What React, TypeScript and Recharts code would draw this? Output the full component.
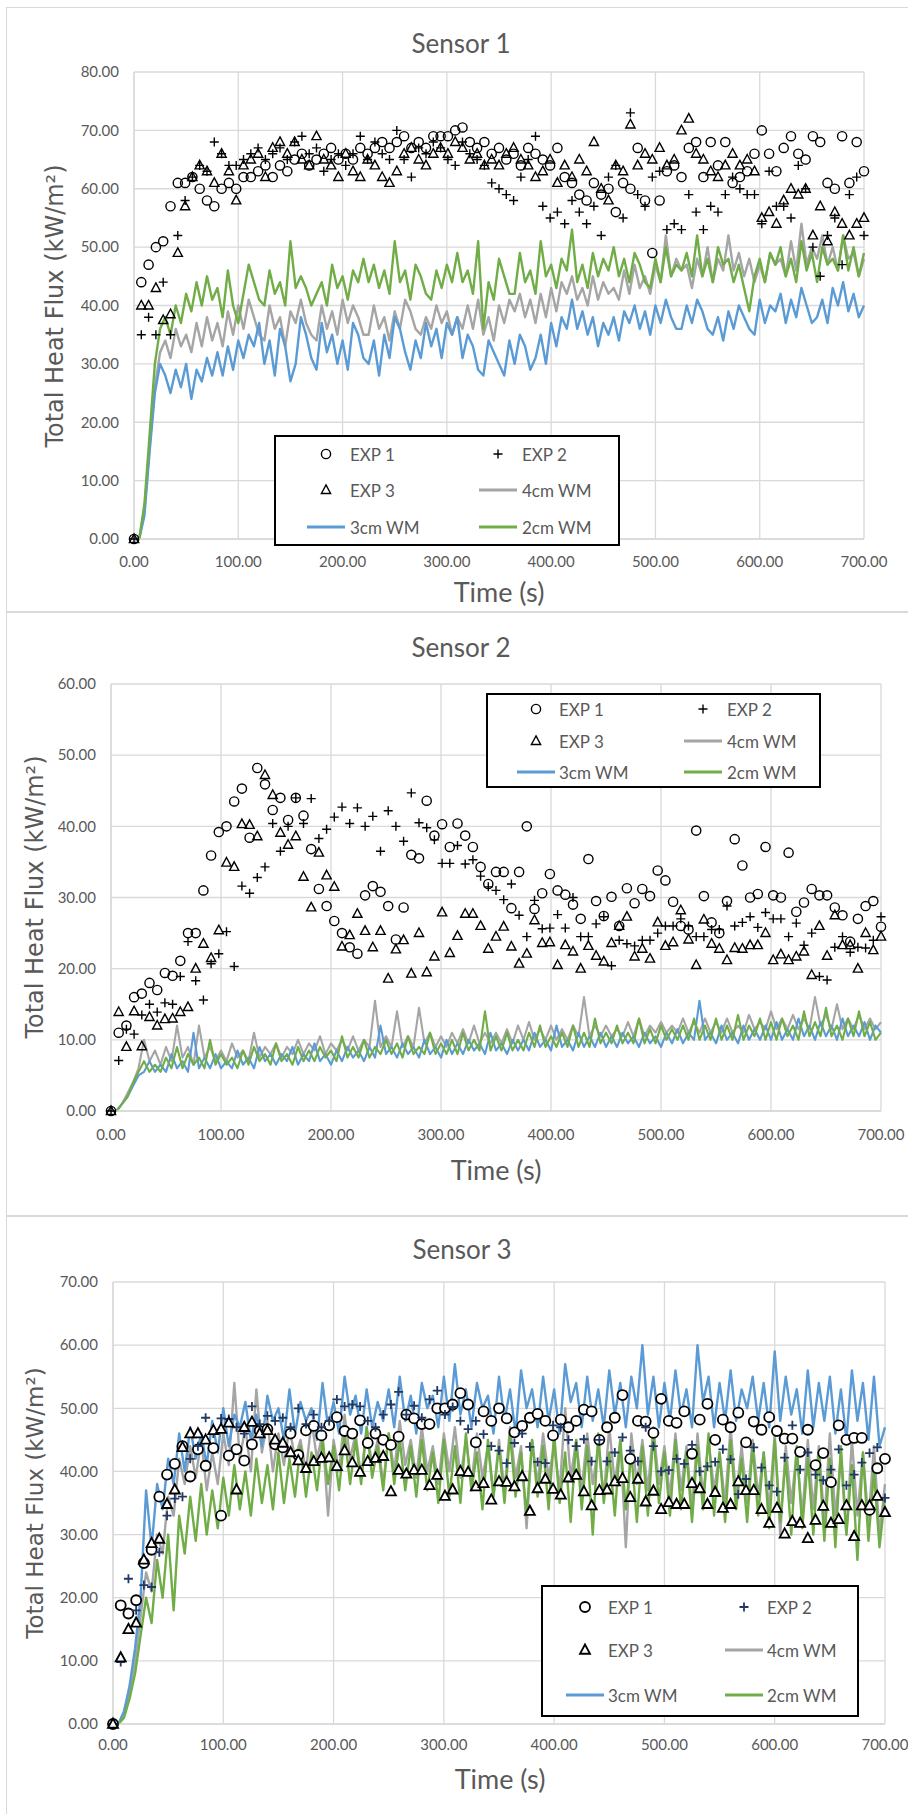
import React from "react";
import { ComposedChart, Line, Scatter, XAxis, YAxis, CartesianGrid } from "recharts";

const LINE_STEP = 5; // seconds between model samples
const EXP_STEP = 7; // seconds between experiment samples
const X_TICKS = [0, 100, 200, 300, 400, 500, 600, 700];

const GRAY = "#a5a5a5";
const BLUE = "#5b9bd5";
const GREEN = "#70ad47";
const TEXT = "#595959";
const FONT = "Lato, 'Open Sans', sans-serif";

// ---------- Sensor 1 ----------
const p1Gray = [
  0, 0, 5, 16, 26, 32, 34, 31, 36, 33, 35, 32, 37, 33, 38, 34, 37, 33, 39, 35,
  40, 36, 41, 38, 35, 34, 40, 36, 38, 33, 39, 37, 41, 37, 35, 34, 40, 36, 39, 35,
  41, 37, 40, 38, 35, 35, 40, 36, 38, 34, 39, 36, 41, 39, 36, 35, 38, 36, 40, 37,
  39, 35, 38, 36, 40, 36, 41, 35, 38, 34, 40, 37, 41, 39, 42, 38, 41, 37, 42, 38,
  43, 39, 44, 42, 45, 41, 43, 40, 45, 41, 44, 42, 43, 41, 46, 42, 47, 43, 45, 42,
  47, 44, 52, 45, 48, 46, 47, 43, 48, 45, 50, 44, 48, 46, 52, 46, 49, 45, 48, 44,
  47, 44, 49, 47, 48, 45, 51, 46, 54, 47, 50, 48, 52, 47, 50, 46, 52, 48, 49, 45,
  48,
];
const p1Blue = [
  0, 0, 4, 15, 25, 30, 28, 25, 29, 26, 30, 24, 29, 27, 31, 28, 32, 28, 33, 29,
  34, 31, 35, 33, 37, 30, 34, 28, 36, 33, 27, 30, 38, 35, 31, 29, 37, 32, 35, 30,
  34, 29, 37, 35, 31, 30, 34, 28, 35, 31, 38, 36, 32, 29, 34, 31, 37, 33, 36, 31,
  37, 35, 38, 31, 35, 33, 29, 28, 34, 32, 30, 28, 34, 30, 35, 33, 29, 31, 35, 30,
  37, 33, 38, 36, 41, 36, 39, 35, 38, 33, 37, 35, 38, 34, 39, 37, 40, 36, 39, 35,
  40, 37, 41, 38, 36, 36, 40, 37, 41, 39, 36, 35, 38, 34, 39, 36, 40, 38, 36, 35,
  41, 37, 40, 39, 42, 37, 41, 38, 43, 40, 37, 38, 41, 37, 43, 40, 44, 39, 42, 38,
  40,
];
const p1Green = [
  0, 0, 6, 18, 30, 36, 38, 35, 40, 37, 42, 39, 44, 40, 45, 41, 43, 38, 46, 40,
  37, 42, 47, 44, 41, 40, 46, 42, 44, 40, 51, 43, 45, 43, 40, 42, 44, 40, 47, 43,
  45, 41, 46, 44, 48, 44, 47, 43, 46, 42, 51, 44, 46, 41, 47, 45, 42, 41, 46, 43,
  47, 44, 49, 44, 46, 42, 51, 36, 44, 41, 48, 45, 42, 42, 49, 44, 46, 42, 51, 45,
  47, 43, 48, 46, 53, 44, 47, 43, 49, 45, 48, 46, 50, 45, 48, 44, 49, 47, 44, 43,
  48, 44, 50, 45, 47, 46, 49, 45, 52, 45, 48, 44, 50, 47, 48, 44, 47, 43, 39, 45,
  48, 44, 49, 47, 50, 45, 48, 44, 51, 46, 49, 44, 50, 47, 48, 46, 52, 46, 50, 45,
  49,
];
const p1Exp1 = [
  0, 44, 47, 50, 51, 57, 61, 61, 62, 60,
  58, 57, 60, 61, 60, 62, 62, 63, 64, 62,
  64, 63, 65, 66, 64, 65, 66, 67, 65, 66,
  65, 67, 66, 67, 68, 67, 68, 69, 67, 68,
  67, 69, 69, 69, 70, 70.5, 68, 67, 68, 66,
  67, 65, 66, 64, 67, 66, 65, 64, 67, 62,
  61, 59, 58, 61, 59, 60, 56, 61, 60, 67,
  58, 49, 58, 63, 64, 62, 67, 68, 62, 68,
  64, 68, 61, 62, 63, 66, 70, 66, 63, 67,
  69, 66, 65, 69, 68, 61, 60, 69, 61, 68,
  63,
];
const p1Exp2 = [
  0, 35, 38, 35, 44, 35, 52, 58, 62, 64,
  63, 68, 66, 64, 64, 65, 66, 67, 65, 66,
  67, 65, 68, 69, 66, 67, 63, 65, 66, 64,
  66, 69, 65, 68, 66, 65, 70, 65, 62, 67,
  66, 68, 67, 65, 64, 68, 66, 65, 64, 61,
  60, 59, 58, 62, 65, 69, 57, 55, 56, 54,
  58, 56, 54, 57, 52, 62, 64, 55, 73, 59,
  57, 62, 63, 53, 54, 53, 59, 56, 53, 57,
  56, 59, 62, 60, 59, 59, 54, 63, 57, 57,
  55, 64, 60, 50, 45, 52, 55, 47, 59, 62,
  52,
];
const p1Exp3 = [
  0, 40, 40, 43, 37.5, 38.5, 49, 57, 62, 64,
  63, 61, 66, 63, 58, 64, 65, 66, 62, 67,
  68, 66, 68, 65, 64, 69, 65, 64, 62, 66,
  63, 62, 65, 64, 62, 61, 63, 66, 67, 65,
  64, 66, 67, 66, 68, 67, 65, 66, 64, 65,
  64, 66, 67, 65, 64, 62, 63, 65, 61, 64,
  62, 65, 63, 68, 60, 58, 64, 63, 71, 64,
  66, 65, 67, 64, 65, 70, 72, 66, 65, 63,
  62, 64, 66, 64, 65, 63, 55, 56, 54, 58,
  60, 59, 60, 52, 57, 51, 56, 54, 52, 54,
  55,
];

// ---------- Sensor 2 ----------
const p2Gray = [
  0, 0, 1, 2.5, 4, 6, 10, 7, 8.5, 6.5, 9, 7, 12, 7.5, 9, 6.5, 12, 7.5, 9, 7,
  8.5, 7, 9.5, 7.5, 8.5, 7, 11, 7.5, 9, 8, 9.5, 7.5, 9, 8, 10, 8, 9.5, 8.5, 10.5, 8,
  9.5, 8.5, 10, 8.5, 10.5, 8.5, 10, 9, 15.5, 9, 10.5, 9, 14, 9, 10.5, 9, 14.5, 9.5, 11, 9,
  10.5, 9, 11, 9.5, 11.5, 9.5, 12, 9.5, 11, 9.5, 11, 9.5, 11.5, 9.5, 12, 10, 12.5, 10, 11.5, 10,
  12, 10, 11.5, 10, 12, 10.5, 16, 10.5, 12, 10.5, 12, 10.5, 11.5, 10.5, 12.5, 10.5, 13, 10.5, 12, 11,
  12.5, 11, 12, 11, 13, 11, 12.5, 11, 13, 11, 12.5, 11, 13, 11, 12, 11, 13.5, 11.5, 12.5, 11.5,
  14, 11.5, 13, 11.5, 13.5, 11.5, 13, 11.5, 16, 12, 13.5, 11.5, 15, 11.5, 13, 11.5, 13.5, 11.5, 13, 11.5,
  12.5,
];
const p2Blue = [
  0, 0, 1, 2, 3.5, 5, 5.5, 7, 5.5, 6.5, 5.5, 8, 6, 7, 5.5, 11, 6, 7.5, 6, 8,
  6, 7, 6, 8.5, 6.5, 7.5, 6, 9, 7, 8, 6.5, 8, 7, 9, 6.5, 8, 7, 9.5, 7, 8,
  6.5, 8.5, 7, 9, 7.5, 8.5, 7, 9, 7.5, 12, 8, 9, 7.5, 9.5, 8, 9, 7.5, 10, 8, 9,
  7.5, 10, 8, 9.5, 8, 10, 8.5, 9.5, 8, 11, 8.5, 9.5, 8, 10, 8.5, 10, 8.5, 11, 9, 10,
  8.5, 12, 9, 10, 8.5, 11, 9, 10.5, 9, 11, 9, 10.5, 9, 11, 9.5, 10.5, 9, 11, 9.5, 10.5,
  9, 11, 9.5, 11.5, 9.5, 11, 10, 15.5, 10, 11, 9.5, 12, 10, 11, 9.5, 12, 10, 11.5, 10, 12,
  10, 12.5, 10, 11.5, 10, 13, 10.5, 12, 10, 12.5, 10.5, 12, 10, 13, 10.5, 12, 10.5, 12.5, 10, 12,
  11,
];
const p2Green = [
  0, 0, 1, 2, 4, 5.5, 7, 5.5, 6.5, 5.5, 7.5, 6, 9, 6, 8, 6.5, 7.5, 6, 10, 6.5,
  8, 6.5, 7.5, 6, 8.5, 6.5, 9, 7, 8, 6.5, 9.5, 7, 8, 6.5, 9, 7, 8.5, 7, 9, 7.5,
  8.5, 7, 10.5, 7.5, 9, 7.5, 10, 7.5, 9, 8, 10, 8, 9.5, 7.5, 10.5, 8, 9, 8, 11, 8,
  9.5, 8, 10, 8, 11, 8.5, 10, 8.5, 14, 8.5, 10.5, 8.5, 11, 8.5, 10, 8.5, 11, 9, 12, 9,
  10.5, 9, 11, 9, 12, 9, 11, 9, 13, 9.5, 11, 9.5, 12, 9.5, 11, 9.5, 13, 9.5, 11.5, 9.5,
  12, 10, 11.5, 10, 12, 10, 13, 10, 12, 10, 13, 10, 12, 10, 13.5, 10, 12, 10.5, 13, 10,
  12.5, 10, 13, 10.5, 12, 10, 14, 10.5, 12.5, 10.5, 14.5, 10.5, 12, 10, 13, 10.5, 14, 10.5, 12.5, 10,
  11,
];
const p2Exp1 = [
  0, 11, 12, 16, 16.5, 18, 17, 19.4, 19, 21.1,
  25, 25, 31, 35.9, 39.2, 40, 43.5, 45.3, 38.4, 48.2,
  45.9, 42.3, 44, 40.9, 44, 41.5, 36.8, 31.2, 28.8, 26.7,
  25, 23, 22.1, 30.3, 31.6, 30.8, 28.8, 24.1, 28.6, 36,
  35.5, 43.6, 38.7, 40.3, 37.1, 40.4, 38.7, 37.1, 34.3, 31.9,
  33.6, 33.6, 28.5, 33.6, 40, 28.4, 30.6, 33.3, 31, 30.4,
  29, 27, 35.4, 29.5, 27.4, 30.1, 26, 31.3, 29.2, 31.2,
  30.2, 33.8, 32.4, 29.4, 26, 25.5, 39.4, 30.2, 26.5, 25,
  29.5, 38.2, 34.5, 30, 30.5, 37.1, 30.3, 30, 36.3, 28,
  29.3, 31.2, 30.3, 30.3, 28.6, 27.5, 23.8, 27, 28.8, 29.5,
  25.9,
];
const p2Exp2 = [
  0, 7.1, 11.5, 10.8, 13.5, 15, 13.9, 15.2, 15, 18.9,
  23.8, 18.3, 15.6, 20.7, 22.1, 25.2, 20.3, 31.6, 30.6, 32.8,
  34.3, 40.4, 36.5, 40, 44, 40.4, 43.9, 38.3, 39.6, 41.3,
  42.7, 40.4, 42.6, 40, 41.4, 36.5, 42.2, 40, 37.9, 44.7,
  40.5, 39.8, 38.1, 34.8, 34.8, 37.3, 34.7, 35.3, 33, 31.5,
  31, 29.7, 31.9, 27.5, 24.5, 29.6, 25.6, 25.7, 27.6, 25.7,
  30, 24.5, 24.5, 26.3, 27.3, 20.4, 24, 23.5, 23.2, 24,
  24, 25, 26, 26, 27, 26, 24.5, 24.5, 25.5, 25.5,
  28.8, 26, 26.5, 27.3, 25.8, 27.9, 27, 27, 24.5, 26.4,
  23.3, 25, 18.9, 18.4, 23, 24.5, 22.3, 23, 22.9, 24,
  27.3,
];
const p2Exp3 = [
  0, 13.9, 9, 14, 9.1, 13.2, 12, 12.9, 13, 13.9,
  14.6, 20, 23.5, 21.5, 25.4, 34.9, 34.3, 40.3, 40.2, 38.6,
  47.2, 44.4, 39.1, 37.4, 38.6, 32.9, 28.6, 36.3, 33.1, 31.5,
  23.1, 24.7, 27.7, 25.3, 23, 25.3, 18.6, 22.7, 24, 19.3,
  25, 19.5, 21.7, 27.9, 22.2, 24.6, 27.7, 27.7, 26, 22.8,
  24.5, 25.9, 23.1, 20.7, 22.1, 26.8, 23.6, 23.7, 20.5, 23.3,
  22.4, 20, 23.2, 21.8, 21, 23.6, 26, 27.3, 21.7, 22.8,
  21.4, 26.5, 23.2, 23.7, 28.2, 24.1, 20.5, 26.9, 23.5, 22.8,
  21.2, 22.9, 22.8, 23.3, 23.3, 25, 21.2, 22, 21.2, 21.7,
  22.4, 19.1, 26, 21.8, 27.5, 23.3, 23.3, 20, 25, 22.6,
  24.5,
];

// ---------- Sensor 3 ----------
const p3Gray = [
  0, 0, 2, 5, 10, 17, 24, 21, 30, 27, 36, 33, 42, 38, 44, 39, 45, 37, 43, 38,
  46, 41, 54, 42, 47, 40, 53, 43, 48, 40, 46, 41, 47, 42, 45, 40, 48, 42, 46, 33,
  45, 40, 49, 42, 46, 39, 47, 41, 45, 38, 46, 40, 48, 41, 45, 39, 47, 40, 44, 38,
  46, 40, 47, 39, 45, 38, 46, 39, 44, 36, 45, 37, 47, 39, 44, 31, 45, 38, 46, 39,
  44, 37, 50, 39, 45, 37, 46, 38, 44, 36, 47, 38, 45, 28, 46, 38, 45, 37, 47, 38,
  44, 36, 46, 37, 44, 34, 46, 36, 45, 37, 43, 35, 47, 36, 44, 35, 45, 36, 43, 34,
  46, 30, 44, 35, 43, 33, 45, 34, 44, 32, 46, 33, 42, 30, 45, 33, 43, 32, 44, 30,
  38,
];
const p3Blue = [
  0, 0, 2, 6, 12, 20, 37, 28, 38, 34, 42, 38, 46, 40, 47, 42, 46, 41, 48, 43,
  50, 44, 49, 47, 51, 45, 49, 44, 52, 48, 50, 45, 53, 46, 51, 48, 50, 45, 54, 47,
  51, 46, 55, 49, 52, 46, 53, 47, 51, 48, 53, 47, 55, 48, 52, 46, 54, 50, 52, 47,
  55, 48, 57, 49, 53, 47, 54, 50, 52, 46, 55, 48, 53, 46, 56, 50, 53, 47, 55, 48,
  53, 46, 57, 51, 54, 47, 55, 48, 53, 47, 56, 49, 54, 47, 55, 50, 60, 49, 55, 47,
  54, 48, 56, 49, 53, 47, 60, 51, 55, 47, 54, 48, 56, 48, 53, 50, 55, 48, 54, 47,
  59, 48, 55, 49, 53, 46, 56, 47, 54, 48, 55, 46, 53, 45, 56, 48, 54, 45, 55, 44,
  47,
];
const p3Green = [
  0, 0, 1, 4, 8, 14, 20, 16, 26, 20, 30, 18, 33, 27, 36, 29, 38, 30, 37, 31,
  39, 33, 41, 34, 40, 33, 42, 35, 41, 34, 43, 35, 42, 36, 44, 36, 43, 37, 45, 38,
  44, 37, 46, 38, 45, 38, 47, 39, 44, 37, 46, 38, 45, 37, 44, 36, 45, 37, 43, 35,
  45, 36, 44, 35, 46, 37, 43, 34, 45, 36, 44, 35, 46, 36, 43, 33, 45, 36, 44, 34,
  46, 35, 43, 32, 45, 34, 44, 30, 46, 35, 43, 33, 45, 34, 43, 32, 44, 33, 46, 35,
  43, 33, 45, 34, 43, 32, 44, 34, 46, 33, 43, 32, 45, 34, 42, 32, 44, 33, 43, 31,
  45, 32, 42, 30, 44, 31, 42, 30, 43, 29, 42, 28, 44, 30, 41, 26, 43, 29, 40, 28,
  36,
];
const p3Exp1 = [
  0, 18.8, 17.5, 19.6, 25.5, 27.6, 36, 39.5, 41.2, 44,
  39.2, 43.5, 40.9, 43.7, 33, 42.5, 43.5, 41.7, 44.3, 46.4,
  46.7, 44.3, 43.8, 46, 42.6, 46.5, 47.2, 45.7, 47.3, 48.6,
  46.4, 46, 48.1, 44.5, 46, 45, 44.2, 45.5, 49, 48.4,
  47.5, 47.5, 50, 50, 50.6, 52.4, 50.6, 44.6, 49.5, 48,
  50, 48.4, 46.2, 47.2, 48.5, 49.1, 48, 45.7, 48.2, 47,
  48, 49.8, 49.5, 45, 47, 48.5, 52.1, 42, 48, 47.9,
  46.1, 51.5, 48, 47.7, 49.5, 42.8, 48.2, 50.7, 45, 48.2,
  47, 49.3, 44.6, 47.9, 46.6, 48.6, 46.4, 45.2, 45.2, 43.1,
  46.6, 41, 42.9, 38.3, 47.3, 45, 45.3, 45.3, 33.9, 40.5,
  42,
];
const p3Exp2 = [
  0, 9.8, 23, 18, 22, 21.7, 27.2, 33, 35.7, 36,
  42, 44, 48.5, 46, 48.4, 48.3, 47, 46, 50.3, 47.5,
  48.8, 48, 48.5, 47, 50, 47.5, 49, 47, 48, 51.4,
  50.3, 50.6, 50.3, 48, 47, 49, 50.6, 52.6, 49, 50.4,
  48.5, 51.4, 52.8, 49, 50.2, 48, 46.7, 48, 45.9, 44,
  43.3, 41.3, 44.5, 46, 43.9, 41.5, 41.3, 47.3, 47, 45,
  44, 45.1, 41.6, 45, 41.6, 43, 45.4, 43.3, 41.6, 47,
  44, 40, 40.2, 42, 41.2, 44.2, 40, 40.8, 41.5, 43.5,
  41.9, 36.4, 38.8, 43.8, 40.6, 37.8, 36.8, 42.2, 47.3, 40.3,
  43, 39.5, 38.6, 40.3, 43.5, 37.8, 39.5, 41.4, 42.9, 43.8,
  35.8,
];
const p3Exp3 = [
  0, 10.5, 15, 16, 26, 28.6, 29.3, 34.8, 37.1, 43.8,
  46, 46, 45, 46.5, 46.7, 47.7, 37.1, 47, 47.8, 46,
  46.5, 45, 44.5, 43, 41.7, 40.5, 41.6, 42.1, 42.2, 40.8,
  43.3, 41.4, 39.9, 41.6, 42.1, 42.4, 36.8, 40.2, 39.6, 40.2,
  40.2, 37.8, 39.4, 36.1, 37.1, 40, 39.9, 37.6, 38.1, 35.5,
  38.4, 38.3, 37.6, 39.2, 33.7, 37.3, 38.8, 37.2, 36.3, 39,
  39.4, 36.8, 34.6, 37, 37.1, 38.4, 38.9, 35.9, 38.8, 35.2,
  36.9, 34, 35.1, 34.8, 34.8, 38.1, 37.3, 34.8, 36.7, 34.2,
  34.8, 38.4, 37, 37, 34, 31.8, 34.2, 30.1, 32.1, 31.8,
  29.4, 32.3, 34.5, 31.8, 32.4, 34.6, 29.7, 34.6, 34.6, 36.1,
  33.5,
];

const toPoints = (step: number, values: number[]) => values.map((v, i) => ({ t: i * step, v }));
const fmt = (v: number) => v.toFixed(2);
const yTicks = (max: number) => Array.from({ length: max / 10 + 1 }, (_, i) => i * 10);

type MarkStyle = { fill: string; stroke: string; width: number; plusColor: string; r: number };

const circleShape = (m: MarkStyle) => (p: any) =>
  p.cx == null ? <g /> : <circle cx={p.cx} cy={p.cy} r={m.r} fill={m.fill} stroke={m.stroke} strokeWidth={m.width} />;

const plusShape = (m: MarkStyle) => (p: any) =>
  p.cx == null ? (
    <g />
  ) : (
    <path
      d={`M${p.cx - 4.5},${p.cy}H${p.cx + 4.5}M${p.cx},${p.cy - 4.5}V${p.cy + 4.5}`}
      stroke={m.plusColor}
      strokeWidth={m.width}
    />
  );

const triShape = (m: MarkStyle) => (p: any) =>
  p.cx == null ? (
    <g />
  ) : (
    <path
      d={`M${p.cx},${p.cy - m.r - 0.5}L${p.cx + m.r},${p.cy + m.r * 0.75}L${p.cx - m.r},${p.cy + m.r * 0.75}Z`}
      fill={m.fill}
      stroke={m.stroke}
      strokeWidth={m.width}
    />
  );

const OPEN: MarkStyle = { fill: "none", stroke: "#000", width: 1.4, plusColor: "#000", r: 4.6 };
const FILLED: MarkStyle = { fill: "#fff", stroke: "#000", width: 1.8, plusColor: "#203864", r: 5 };

type PanelCfg = {
  title: string;
  frameTop: number;
  frameH: number;
  chartTop: number;
  chartH: number;
  plotLeft: number;
  plotRight: number;
  plotTop: number;
  plotBottom: number;
  yMax: number;
  titleX: number;
  titleY: number;
  xTitleX: number;
  xTitleY: number;
  yTitleX: number;
  yTitleY: number;
  yTitleSize: number;
  xTickMargin: number;
  lineWidth: number;
  mark: MarkStyle;
  gray: number[];
  blue: number[];
  green: number[];
  exp1: number[];
  exp2: number[];
  exp3: number[];
  legend: { x1: number; y1: number; x2: number; y2: number; rows: number[]; cols: [number, number][] };
};

const abs = (left: number, top: number): React.CSSProperties => ({ position: "absolute", left, top });

function LegendBox({ cfg }: { cfg: PanelCfg }) {
  const L = cfg.legend;
  const m = cfg.mark;
  const w = L.x2 - L.x1;
  const h = L.y2 - L.y1;
  const items = [
    { kind: "circle", label: "EXP 1", c: 0, r: 0 },
    { kind: "plus", label: "EXP 2", c: 1, r: 0 },
    { kind: "tri", label: "EXP 3", c: 0, r: 1 },
    { kind: GRAY, label: "4cm WM", c: 1, r: 1 },
    { kind: BLUE, label: "3cm WM", c: 0, r: 2 },
    { kind: GREEN, label: "2cm WM", c: 1, r: 2 },
  ];
  return (
    <svg style={abs(L.x1, L.y1)} width={w} height={h}>
      <rect x={1} y={1} width={w - 2} height={h - 2} fill="#fff" stroke="#000" strokeWidth={2} />
      {items.map((it) => {
        const mx = L.cols[it.c][0] - L.x1;
        const tx = L.cols[it.c][1] - L.x1;
        const y = L.rows[it.r] - L.y1;
        let mark: React.ReactNode;
        if (it.kind === "circle") mark = circleShape(m)({ cx: mx, cy: y });
        else if (it.kind === "plus") mark = plusShape(m)({ cx: mx, cy: y });
        else if (it.kind === "tri") mark = triShape(m)({ cx: mx, cy: y });
        else mark = <line x1={mx - 19} x2={mx + 19} y1={y} y2={y} stroke={it.kind} strokeWidth={3} />;
        return (
          <g key={it.label}>
            {mark}
            <text x={tx} y={y} dominantBaseline="central" fontFamily={FONT} fontSize={17} fill={TEXT}>
              {it.label}
            </text>
          </g>
        );
      })}
    </svg>
  );
}

function Panel({ cfg }: { cfg: PanelCfg }) {
  const xAxisH = 40;
  const margin = {
    top: cfg.plotTop - cfg.chartTop,
    right: 908 - cfg.plotRight,
    left: 0,
    bottom: cfg.chartTop + cfg.chartH - cfg.plotBottom - xAxisH,
  };
  const tick = { fill: TEXT, fontSize: 15, fontFamily: FONT };
  const lines = [
    { key: "4cm", data: cfg.gray, color: GRAY },
    { key: "3cm", data: cfg.blue, color: BLUE },
    { key: "2cm", data: cfg.green, color: GREEN },
  ];
  return (
    <>
      <div
        style={{
          ...abs(6, cfg.frameTop),
          width: 940,
          height: cfg.frameH,
          border: "1.5px solid #d9d9d9",
          boxSizing: "border-box",
        }}
      />
      <div style={{ ...abs(0, cfg.chartTop) }}>
        <ComposedChart width={908} height={cfg.chartH} margin={margin}>
          <CartesianGrid stroke="#d9d9d9" strokeWidth={1.3} />
          <XAxis
            type="number"
            dataKey="t"
            domain={[0, 700]}
            ticks={X_TICKS}
            tickFormatter={fmt}
            tick={tick}
            tickLine={false}
            tickSize={0}
            tickMargin={cfg.xTickMargin}
            axisLine={{ stroke: "#d9d9d9", strokeWidth: 1.3 }}
            height={xAxisH}
          />
          <YAxis
            type="number"
            dataKey="v"
            domain={[0, cfg.yMax]}
            ticks={yTicks(cfg.yMax)}
            tickFormatter={fmt}
            tick={tick}
            tickLine={false}
            tickSize={0}
            tickMargin={15}
            axisLine={{ stroke: "#d9d9d9", strokeWidth: 1.3 }}
            width={cfg.plotLeft}
          />
          {lines.map((l) => (
            <Line
              key={l.key}
              data={toPoints(LINE_STEP, l.data)}
              dataKey="v"
              type="linear"
              stroke={l.color}
              strokeWidth={cfg.lineWidth}
              strokeLinejoin="round"
              dot={false}
              activeDot={false}
              isAnimationActive={false}
            />
          ))}
          <Scatter data={toPoints(EXP_STEP, cfg.exp1)} dataKey="v" shape={circleShape(cfg.mark)} isAnimationActive={false} />
          <Scatter data={toPoints(EXP_STEP, cfg.exp2)} dataKey="v" shape={plusShape(cfg.mark)} isAnimationActive={false} />
          <Scatter data={toPoints(EXP_STEP, cfg.exp3)} dataKey="v" shape={triShape(cfg.mark)} isAnimationActive={false} />
        </ComposedChart>
      </div>
      <div
        style={{
          ...abs(cfg.titleX, cfg.titleY),
          transform: "translate(-50%, -50%)",
          fontFamily: FONT,
          fontSize: 26,
          color: TEXT,
          whiteSpace: "nowrap",
        }}
      >
        {cfg.title}
      </div>
      <div
        style={{
          ...abs(cfg.xTitleX, cfg.xTitleY),
          transform: "translate(-50%, -50%)",
          fontFamily: FONT,
          fontSize: 27,
          color: TEXT,
          whiteSpace: "nowrap",
        }}
      >
        Time (s)
      </div>
      <div
        style={{
          ...abs(cfg.yTitleX, cfg.yTitleY),
          transform: "translate(-50%, -50%) rotate(-90deg)",
          fontFamily: "'DejaVu Sans', Verdana, sans-serif",
          fontSize: cfg.yTitleSize,
          color: TEXT,
          whiteSpace: "nowrap",
        }}
      >
        Total Heat Flux (kW/m²)
      </div>
      <LegendBox cfg={cfg} />
    </>
  );
}

const PANELS: PanelCfg[] = [
  {
    title: "Sensor 1",
    frameTop: 7,
    frameH: 605,
    chartTop: 0,
    chartH: 600,
    plotLeft: 134,
    plotRight: 864,
    plotTop: 72,
    plotBottom: 539,
    yMax: 80,
    titleX: 461,
    titleY: 43,
    xTitleX: 499,
    xTitleY: 591,
    yTitleX: 55,
    yTitleY: 306,
    yTitleSize: 24,
    xTickMargin: 17,
    lineWidth: 2.4,
    mark: OPEN,
    gray: p1Gray,
    blue: p1Blue,
    green: p1Green,
    exp1: p1Exp1,
    exp2: p1Exp2,
    exp3: p1Exp3,
    legend: { x1: 274, y1: 435, x2: 620, y2: 546, rows: [454, 490, 527], cols: [[326, 350], [498, 522]] },
  },
  {
    title: "Sensor 2",
    frameTop: 612,
    frameH: 604,
    chartTop: 612,
    chartH: 590,
    plotLeft: 111,
    plotRight: 881,
    plotTop: 684,
    plotBottom: 1111,
    yMax: 60,
    titleX: 461,
    titleY: 647,
    xTitleX: 496,
    xTitleY: 1169,
    yTitleX: 35,
    yTitleY: 897,
    yTitleSize: 24,
    xTickMargin: 18,
    lineWidth: 2.1,
    mark: OPEN,
    gray: p2Gray,
    blue: p2Blue,
    green: p2Green,
    exp1: p2Exp1,
    exp2: p2Exp2,
    exp3: p2Exp3,
    legend: { x1: 486, y1: 693, x2: 821, y2: 788, rows: [709, 741, 772], cols: [[536, 559], [703, 727]] },
  },
  {
    title: "Sensor 3",
    frameTop: 1216,
    frameH: 620,
    chartTop: 1216,
    chartH: 590,
    plotLeft: 113,
    plotRight: 885,
    plotTop: 1282,
    plotBottom: 1724,
    yMax: 70,
    titleX: 462,
    titleY: 1249,
    xTitleX: 500,
    xTitleY: 1778,
    yTitleX: 35,
    yTitleY: 1503,
    yTitleSize: 23,
    xTickMargin: 15,
    lineWidth: 2.4,
    mark: FILLED,
    gray: p3Gray,
    blue: p3Blue,
    green: p3Green,
    exp1: p3Exp1,
    exp2: p3Exp2,
    exp3: p3Exp3,
    legend: { x1: 541, y1: 1585, x2: 859, y2: 1717, rows: [1607, 1650, 1695], cols: [[585, 608], [744, 767]] },
  },
];

export default function App() {
  return (
    <div
      style={{
        position: "absolute",
        left: 0,
        top: 0,
        width: 908,
        height: 1814,
        overflow: "hidden",
        background: "#fff",
      }}
    >
      {PANELS.map((p) => (
        <Panel key={p.title} cfg={p} />
      ))}
    </div>
  );
}
